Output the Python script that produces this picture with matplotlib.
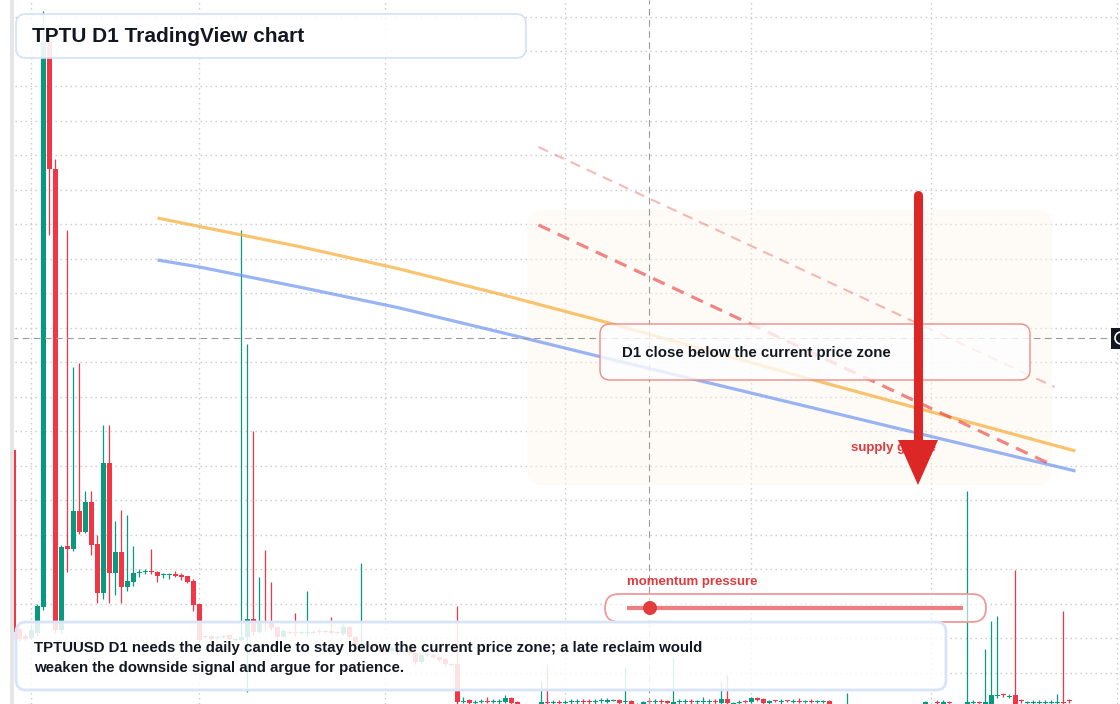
import numpy as np
import pandas as pd
import matplotlib
matplotlib.use("Agg")
import matplotlib.pyplot as plt
import matplotlib.dates as mdates
from matplotlib.patches import FancyBboxPatch, Rectangle, Circle, Polygon
from matplotlib.transforms import Affine2D

plt.rcParams["font.family"] = ["Liberation Sans", "DejaVu Sans"]

# TPTUUSD daily candles (prices in units of 0.0001 USD)
dates = pd.date_range("2025-01-29", periods=177, freq="D")
opens = [554, 375, 368, 366, 371, 397, 962, 835, 374, 458,
         455, 493, 472, 502, 460, 411, 541, 431, 452, 417,
         422, 431, 432, 433, 432, 429, 429, 430, 429, 428,
         423, 400, 368, 368, 366, 367, 369, 364, 364, 367,
         385, 372, 383, 382, 377, 367, 372, 372, 371, 371,
         371, 373, 372, 373, 372, 370, 377, 367, 356, 360,
         357, 359, 355, 353, 356, 352, 354, 351, 342, 349,
         349, 347, 345, 340, 340, 302, 304, 301, 302, 303,
         302, 302, 302, 306, 302, 299, 296, 298, 298, 302,
         301, 302, 301, 302, 302, 303, 303, 302, 303, 302,
         303, 304, 302, 303, 300, 298, 303, 302, 303, 303,
         300, 302, 302, 303, 302, 302, 302, 303, 301, 305,
         300, 301, 303, 302, 306, 305, 301, 304, 302, 304,
         302, 303, 302, 303, 302, 302, 303, 299, 295, 294,
         297, 294, 296, 293, 295, 292, 294, 291, 294, 292,
         295, 297, 300, 295, 302, 300, 302, 299, 296, 299,
         301, 302, 299, 298, 308, 310, 307, 309, 304, 301,
         301, 301, 301, 301, 301, 302, 304]
highs = [556, 377, 370, 380, 400, 993, 966, 845, 459, 774,
         637, 641, 513, 513, 469, 579, 579, 483, 494, 489,
         458, 435, 435, 455, 433, 431, 431, 433, 431, 428,
         425, 400, 369, 369, 368, 369, 370, 366, 774, 660,
         573, 427, 454, 422, 377, 375, 373, 391, 373, 413,
         374, 375, 374, 387, 373, 380, 378, 368, 441, 362,
         360, 360, 357, 358, 357, 355, 355, 352, 350, 351,
         350, 348, 346, 341, 398, 307, 305, 304, 305, 307,
         305, 305, 309, 307, 303, 300, 299, 299, 323, 340,
         304, 304, 304, 305, 305, 305, 305, 305, 306, 306,
         305, 305, 337, 304, 301, 303, 305, 305, 305, 304,
         346, 305, 305, 305, 304, 307, 305, 305, 322, 329,
         302, 304, 304, 307, 307, 306, 304, 304, 305, 304,
         305, 306, 304, 305, 304, 304, 304, 300, 298, 311,
         298, 297, 297, 296, 296, 296, 295, 295, 296, 297,
         298, 299, 303, 299, 304, 304, 303, 300, 299, 513,
         304, 303, 355, 383, 388, 311, 310, 434, 305, 303,
         304, 304, 304, 304, 310, 393, 305]
lows = [364, 363, 364, 365, 368, 394, 769, 371, 371, 432,
        453, 470, 471, 449, 401, 405, 401, 409, 401, 413,
        418, 427, 430, 430, 422, 426, 425, 427, 424, 421,
        393, 362, 366, 364, 365, 366, 364, 363, 363, 312,
        369, 371, 374, 374, 364, 367, 370, 368, 370, 368,
        370, 370, 371, 370, 370, 369, 366, 356, 354, 355,
        356, 353, 351, 352, 350, 351, 349, 340, 341, 348,
        346, 343, 338, 338, 300, 301, 300, 300, 301, 301,
        301, 300, 301, 300, 298, 294, 295, 295, 297, 300,
        300, 300, 300, 300, 300, 300, 300, 300, 301, 301,
        303, 300, 300, 299, 296, 297, 300, 300, 300, 300,
        299, 300, 300, 300, 300, 300, 300, 300, 300, 300,
        300, 300, 301, 301, 303, 300, 300, 302, 300, 302,
        301, 301, 301, 301, 301, 301, 299, 293, 293, 292,
        292, 293, 291, 292, 291, 291, 290, 290, 291, 291,
        293, 294, 298, 294, 299, 299, 299, 295, 295, 298,
        300, 299, 298, 297, 306, 307, 306, 297, 301, 299,
        300, 300, 300, 300, 300, 300, 301]
closes = [372, 365, 365, 374, 398, 962, 835, 374, 457, 455,
          493, 472, 502, 459, 411, 541, 431, 452, 417, 423,
          431, 432, 433, 432, 428, 430, 430, 428, 427, 422,
          399, 364, 367, 365, 367, 368, 365, 365, 367, 385,
          372, 383, 381, 376, 367, 373, 371, 371, 372, 372,
          372, 372, 373, 371, 371, 377, 367, 359, 360, 357,
          359, 355, 353, 356, 352, 354, 351, 342, 349, 350,
          347, 344, 340, 339, 302, 303, 301, 302, 303, 302,
          303, 303, 306, 301, 299, 296, 298, 297, 302, 301,
          302, 301, 302, 303, 303, 302, 302, 303, 304, 304,
          304, 301, 303, 300, 297, 302, 302, 303, 302, 301,
          302, 303, 303, 302, 303, 303, 303, 302, 305, 301,
          301, 302, 302, 306, 304, 301, 303, 303, 303, 303,
          303, 302, 303, 302, 303, 303, 300, 295, 297, 297,
          294, 296, 293, 295, 292, 294, 291, 294, 292, 295,
          297, 295, 302, 298, 301, 302, 301, 296, 298, 302,
          302, 301, 302, 309, 309, 309, 308, 299, 303, 302,
          302, 302, 302, 302, 302, 301, 303]

# moving-average style guide lines (day offset from 2025-02-02, price)
orange_days = [20, 27, 44, 60, 77, 94, 130, 173]
ma_orange = [0.0786, 0.07775, 0.0757, 0.07355, 0.0710, 0.0683, 0.0623, 0.0553]
blue_days = [20, 27, 44, 60, 77, 94, 112, 130, 150, 173]
ma_blue = [0.0744, 0.0737, 0.07165, 0.06965, 0.0672, 0.0647, 0.0621, 0.0595,
           0.0566, 0.0533]

# descending resistance lines and supply zone
trend_days = [83.5, 169.5]
trend_main = [0.0779, 0.0538]
trend_upper = [0.0857, 0.0617]
zone_days = [81.6, 169.1]
zone_prices = [0.0519, 0.0794]
arrow_day = 146.75
arrow_prices = [0.0809, 0.0519]
cross_day = 102
cross_price = 0.0666

W, H = 1120, 704
o = np.array(opens) * 1e-4
h = np.array(highs) * 1e-4
l = np.array(lows) * 1e-4
c = np.array(closes) * 1e-4
x = mdates.date2num(dates)
base = mdates.date2num(pd.Timestamp("2025-02-02"))
up = c >= o
cols = np.where(up, "#089981", "#f23645")

fig = plt.figure(figsize=(W / 100, H / 100), dpi=100)
ax = fig.add_axes([0, 0, 1, 1])
ax.set_xlim(base - 6.25, base + 180.42)
ax.set_ylim(0.0300, 0.1004)
for s in ax.spines.values():
    s.set_visible(False)
ax.xaxis.set_major_locator(mdates.MonthLocator())
ax.set_yticks(np.arange(0.0331, 0.1004, 0.003453))
ax.tick_params(length=0, labelbottom=False, labelleft=False)
ax.grid(True, color="#c9c9c9", lw=1, linestyle=(0, (1, 2.6)), zorder=0)
ax.set_axisbelow(True)

# pixel transform (top-left origin) for annotation boxes
px = Affine2D().scale(1, -1).translate(0, H)


def to_px(day, price):
    X, Y = ax.transData.transform((base + day, price))
    return X, H - Y


# supply zone
zx0, zy1 = to_px(zone_days[0], zone_prices[1])
zx1, zy0 = to_px(zone_days[1], zone_prices[0])
ax.add_patch(FancyBboxPatch((zx0, zy1), zx1 - zx0, zy0 - zy1,
                            boxstyle="round,pad=0,rounding_size=16",
                            fc="#fdf3ea", ec="none", alpha=0.4,
                            transform=px, zorder=1))

# candles
ax.vlines(x, l, h, colors=cols, lw=0.9, zorder=2)
ax.bar(x, np.maximum(np.abs(c - o), 1e-4), bottom=np.minimum(o, c),
       width=0.8, color=cols, lw=0, zorder=3)

# guide lines
ax.plot(base + np.array(orange_days), ma_orange, color="#f7b140", lw=2.3,
        alpha=0.75, zorder=4, solid_capstyle="butt", solid_joinstyle="round")
ax.plot(base + np.array(blue_days), ma_blue, color="#6d95f0", lw=2.3,
        alpha=0.7, zorder=4, solid_capstyle="butt", solid_joinstyle="round")
ax.plot(base + np.array(trend_days), trend_main, color="#e53935", lw=2.3,
        alpha=0.6, dashes=(4, 2.6), zorder=4)
ax.plot(base + np.array(trend_days), trend_upper, color="#e53935", lw=1.5,
        alpha=0.35, dashes=(5, 3.5), zorder=4)

# crosshair
ax.axvline(base + cross_day, color="#9a9a9a", lw=0.8, dashes=(6, 4), zorder=5)
ax.axhline(cross_price, color="#9a9a9a", lw=0.8, dashes=(6, 4), zorder=5)
cy = to_px(cross_day, cross_price)[1]
ax.add_patch(Rectangle((1111, cy - 10), 12, 21, fc="#131722", ec="none",
                       transform=px, zorder=9, clip_on=False))
ax.add_patch(Circle((1121, cy), 6, fc="none", ec="white", lw=1.2,
                    transform=px, zorder=10, clip_on=False))

# left price-scale strip
ax.add_patch(Rectangle((0, 0), 10, H, fc="white", ec="none",
                       transform=px, zorder=5.5))
ax.add_patch(Rectangle((10, 0), 4, H, fc="#e6e6e6", ec="none",
                       transform=px, zorder=6))


def box(x0, y0, x1, y1, ec, alpha, lw=1.2, r=10):
    ax.add_patch(FancyBboxPatch((x0, y0), x1 - x0, y1 - y0,
                                boxstyle=f"round,pad=0,rounding_size={r}",
                                fc=(1, 1, 1, alpha), ec=ec, lw=lw,
                                transform=px, zorder=6))


dark = "#131722"
red_txt = "#e03a3e"

# title
box(16, 14, 526, 58, "#d3e1f7", 0.9)
ax.text(32, 36, "TPTU D1 TradingView chart", transform=px, fontsize=15,
        fontweight="bold", color=dark, va="center", zorder=7)

# condition box
box(600, 324, 1030, 380, "#ee8a8a", 0.78, lw=1.0)
ax.text(622, 353, "D1 close below the current price zone", transform=px,
        fontsize=10.8, fontweight="bold", color=dark, va="center", zorder=7)

# supply label and arrow
ax.text(851, 448, "supply gauge", transform=px, fontsize=9.5,
        fontweight="bold", color=red_txt, va="center", zorder=7)
ax_x, a_top = to_px(arrow_day, arrow_prices[0])
a_tip = to_px(arrow_day, arrow_prices[1])[1]
ax.plot([ax_x, ax_x], [a_top, a_tip - 44], color="#dd2626", lw=6.5,
        solid_capstyle="round", transform=px, zorder=8)
ax.add_patch(Polygon([(ax_x - 20, a_tip - 45), (ax_x + 20, a_tip - 45),
                      (ax_x, a_tip)], closed=True, fc="#dd2626", ec="none",
                     transform=px, zorder=8))

# momentum gauge
ax.text(627, 582, "momentum pressure", transform=px, fontsize=9.5,
        fontweight="bold", color=red_txt, va="center", zorder=7)
box(605, 594, 986, 622, "#f09a9a", 0.6, lw=1.3, r=14)
ax.plot([627, 963], [608, 608], color="#ec8080", lw=3, transform=px,
        zorder=7, solid_capstyle="butt")
ax.add_patch(Circle((650, 608), 7, fc="#e23c3c", ec="none", transform=px,
                    zorder=8))

# bottom note
box(16, 622, 946, 690, "#d8e5f8", 0.86, lw=2.0)
ax.text(34, 648, "TPTUUSD D1 needs the daily candle to stay below the current "
        "price zone; a late reclaim would", transform=px, fontsize=10.8,
        fontweight="bold", color=dark, va="center", zorder=7)
ax.text(34, 668, "weaken the downside signal and argue for patience.",
        transform=px, fontsize=10.8, fontweight="bold", color=dark,
        va="center", zorder=7)

fig.savefig("out.png", dpi=100)
